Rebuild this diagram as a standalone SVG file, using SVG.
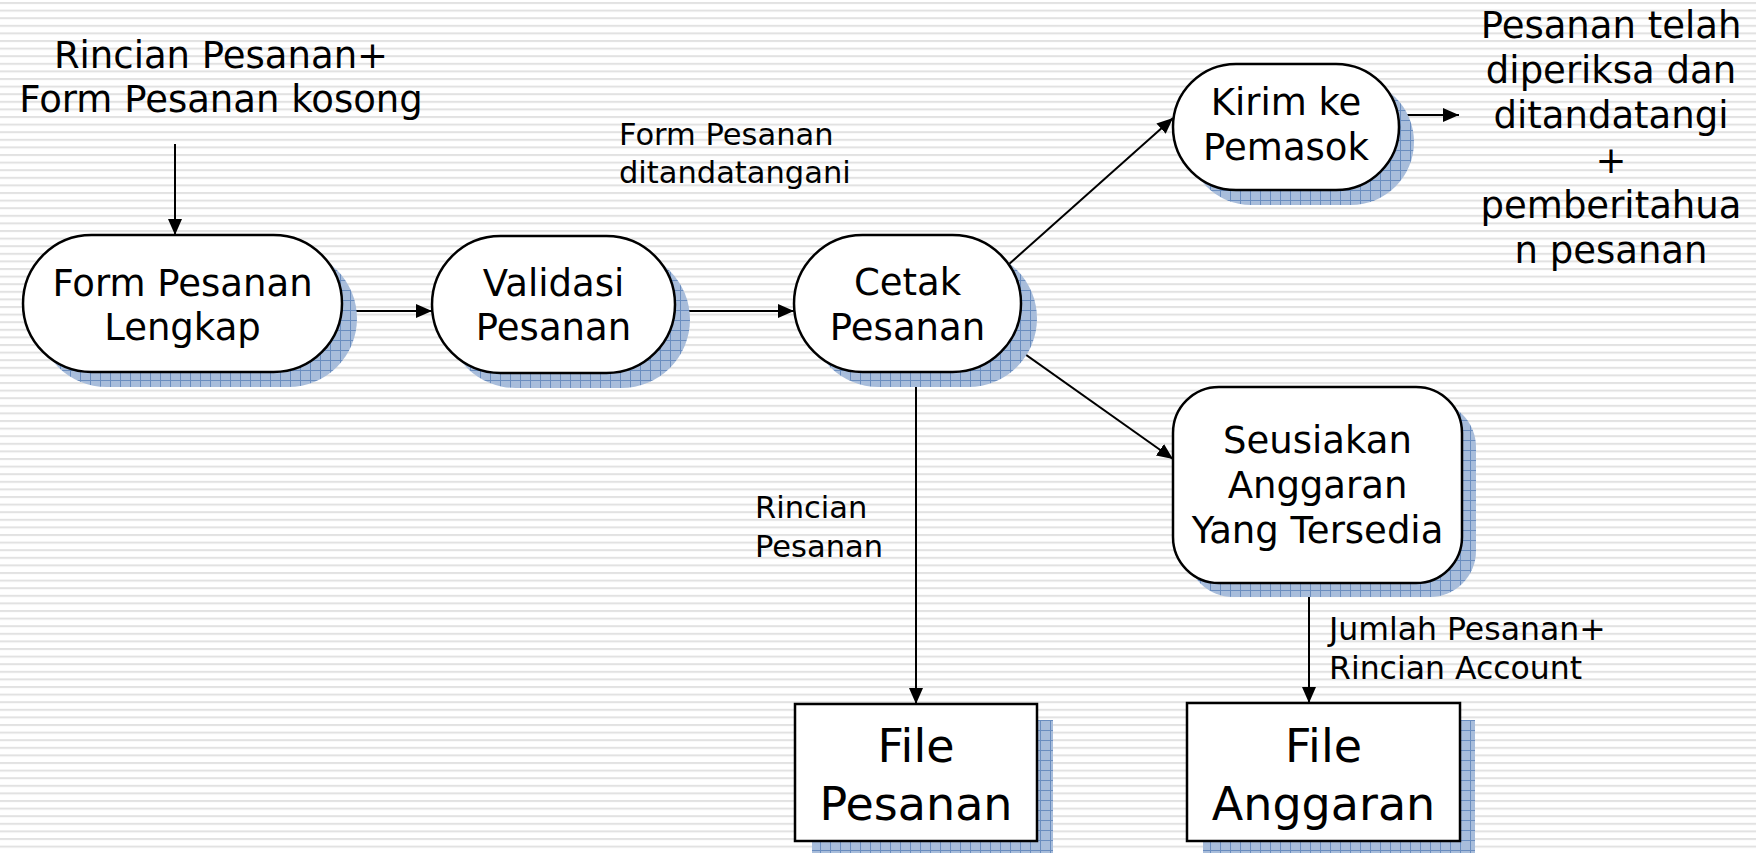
<svg xmlns="http://www.w3.org/2000/svg" width="1756" height="853" viewBox="0 0 1756 853">
  <defs>
    <!-- striped page background -->
    <pattern id="stripes" x="0" y="2" width="20" height="7.6" patternUnits="userSpaceOnUse">
      <rect width="20" height="7.6" fill="#ffffff"/>
      <rect y="0" width="20" height="2" fill="#e2e2e2"/>
    </pattern>
    <!-- blue gridded drop shadow -->
    <pattern id="shadowGrid" x="0" y="0" width="10" height="10" patternUnits="userSpaceOnUse">
      <rect width="10" height="10" fill="#a8bddb"/>
      <path d="M0 0.5H10M0.5 0V10" stroke="#6a8dbf" stroke-width="1"/>
    </pattern>
    <marker id="arrow" viewBox="0 0 16 14" refX="16" refY="7" markerWidth="16" markerHeight="14" markerUnits="userSpaceOnUse" orient="auto">
      <path d="M0 0L16 7L0 14Z" fill="#000"/>
    </marker>
  </defs>
  <style>
    .shape { fill: #ffffff; stroke: #000; stroke-width: 2.5; }
    .shadow { fill: url(#shadowGrid); }
    .node { font-family: "DejaVu Sans", Verdana, sans-serif; font-size: 37px; fill: #000; text-anchor: middle; }
    .store { font-family: "DejaVu Sans", Verdana, sans-serif; font-size: 46px; fill: #000; text-anchor: middle; }
    .label { font-family: "DejaVu Sans", Verdana, sans-serif; font-size: 30.5px; fill: #000; }
    .big { font-family: "DejaVu Sans", Verdana, sans-serif; font-size: 37px; fill: #000; text-anchor: middle; }
    .edge { stroke: #000; stroke-width: 2; fill: none; marker-end: url(#arrow); }
  </style>

  <rect width="1756" height="853" fill="url(#stripes)"/>

  <!-- free-standing flow labels -->
  <g id="labels">
    <text class="big" x="221" y="68">Rincian Pesanan+</text>
    <text class="big" x="221" y="112">Form Pesanan kosong</text>
    <text class="label" x="619" y="145">Form Pesanan</text>
    <text class="label" x="619" y="183">ditandatangani</text>
    <text class="label" x="755" y="518">Rincian</text>
    <text class="label" x="755" y="557">Pesanan</text>
    <text class="label" x="1329" y="640" style="font-size:31.5px">Jumlah Pesanan+</text>
    <text class="label" x="1329" y="679" style="font-size:31.5px">Rincian Account</text>
    <text class="big" x="1611" y="38">Pesanan telah</text>
    <text class="big" x="1611" y="83">diperiksa dan</text>
    <text class="big" x="1611" y="128">ditandatangi</text>
    <text class="big" x="1611" y="173">+</text>
    <text class="big" x="1611" y="218">pemberitahua</text>
    <text class="big" x="1611" y="263">n pesanan</text>
  </g>

  <g id="connectors">
    <line class="edge" x1="175" y1="144" x2="175" y2="235"/>
    <line class="edge" x1="342" y1="311" x2="432" y2="311"/>
    <line class="edge" x1="675" y1="311" x2="794" y2="311"/>
    <line class="edge" x1="1008" y1="265" x2="1173" y2="118"/>
    <line class="edge" x1="1008" y1="342" x2="1173" y2="459"/>
    <line class="edge" x1="1399" y1="115" x2="1459" y2="115"/>
    <line class="edge" x1="916" y1="372" x2="916" y2="704"/>
    <line class="edge" x1="1309" y1="583" x2="1309" y2="703"/>
  </g>

  <g id="form-pesanan-lengkap">
    <rect class="shadow" x="38" y="250" width="319" height="137" rx="68.5"/>
    <rect class="shape" x="23" y="235" width="319" height="137" rx="68.5"/>
    <text class="node" x="182.5" y="296">Form Pesanan</text>
    <text class="node" x="182.5" y="340">Lengkap</text>
  </g>

  <g id="validasi-pesanan">
    <rect class="shadow" x="447" y="251" width="243" height="137" rx="68.5"/>
    <rect class="shape" x="432" y="236" width="243" height="137" rx="68.5"/>
    <text class="node" x="553.5" y="296">Validasi</text>
    <text class="node" x="553.5" y="340">Pesanan</text>
  </g>

  <g id="cetak-pesanan">
    <rect class="shadow" x="810" y="250" width="227" height="137" rx="68.5"/>
    <rect class="shape" x="794" y="235" width="227" height="137" rx="68.5"/>
    <text class="node" x="907.5" y="295">Cetak</text>
    <text class="node" x="907.5" y="340">Pesanan</text>
  </g>

  <g id="kirim-ke-pemasok">
    <rect class="shadow" x="1188" y="79" width="226" height="126" rx="63"/>
    <rect class="shape" x="1173" y="64" width="226" height="126" rx="63"/>
    <text class="node" x="1286" y="115">Kirim ke</text>
    <text class="node" x="1286" y="160">Pemasok</text>
  </g>

  <g id="seusiakan-anggaran">
    <rect class="shadow" x="1187" y="401" width="289" height="196" rx="46"/>
    <rect class="shape" x="1173" y="387" width="289" height="196" rx="46"/>
    <text class="node" x="1317.5" y="453">Seusiakan</text>
    <text class="node" x="1317.5" y="498">Anggaran</text>
    <text class="node" x="1317.5" y="543">Yang Tersedia</text>
  </g>

  <g id="file-pesanan">
    <rect class="shadow" x="812" y="720" width="241" height="140"/>
    <rect class="shape" x="795" y="704" width="242" height="137"/>
    <text class="store" x="916" y="762">File</text>
    <text class="store" x="916" y="820">Pesanan</text>
  </g>

  <g id="file-anggaran">
    <rect class="shadow" x="1203" y="720" width="272" height="140"/>
    <rect class="shape" x="1187" y="703" width="273" height="138"/>
    <text class="store" x="1323.5" y="762">File</text>
    <text class="store" x="1323.5" y="820">Anggaran</text>
  </g>
</svg>
